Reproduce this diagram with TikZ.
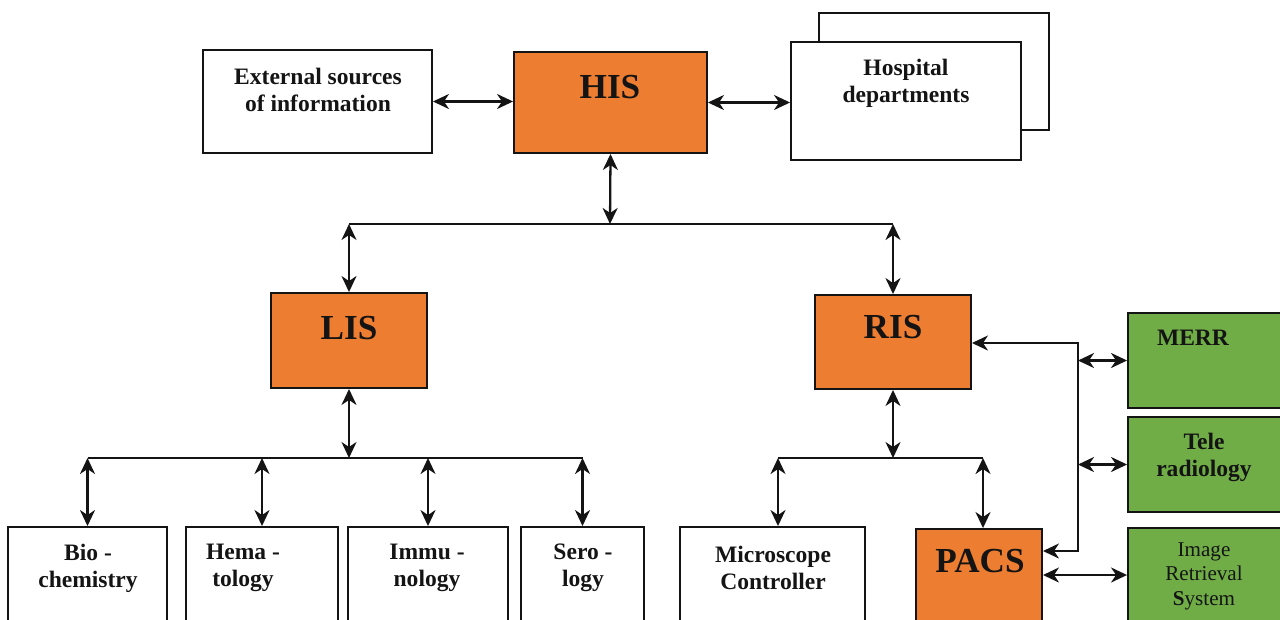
\documentclass[tikz,border=0pt]{standalone}
\usepackage{fontspec}
\setmainfont{Liberation Serif}
\usetikzlibrary{positioning}
\usetikzlibrary{arrows.meta}
\newcommand{\U}{0.02cm}
\newcommand{\BoxLine}{1.1pt}
\newcommand{\ArrowLine}{1.3pt}
\newcommand{\BusLine}{0.7pt}
\definecolor{Black}{RGB}{20, 20, 20}
\definecolor{HisOrange}{RGB}{237, 125, 49}
\definecolor{SubGreen}{RGB}{112, 173, 71}
\newcommand{\LabelFont}{\fontsize{13.4}{15.4}\selectfont\bfseries}
\newcommand{\BigFont}{\fontsize{20}{24}\selectfont\bfseries}
\newcommand{\SmallFont}{\fontsize{12}{14}\selectfont}

\begin{document}
\begin{tikzpicture}[x=\U,y=-\U]
  \tikzstyle{every node}=[font=\LabelFont, align=center, text=Black]
  \tikzstyle{sysbox}=[draw=Black, line width=\BoxLine, inner sep=0pt, fill=white]
  \tikzstyle{dbl}=[line width=\ArrowLine, Black, {Stealth[length=3.2mm,width=3mm,inset=1mm]}-{Stealth[length=3.2mm,width=3mm,inset=1mm]}]
  \tikzstyle{bus}=[line width=\BusLine, Black]
  \clip (0,0) rectangle (1280,619);

  % Top row
  \node[sysbox, minimum width=229*\U, minimum height=103*\U] (ext) at (317.5,101.5) {};
  \node[sysbox, fill=HisOrange, minimum width=193*\U, minimum height=101*\U] (his) at (610.5,102.5) {};
  \node[sysbox, minimum width=230*\U, minimum height=117*\U] (hospback) at (934,71.5) {};
  \node[sysbox, minimum width=230*\U, minimum height=118*\U] (hosp) at (906,101) {};
  \node (exttxt) at (318,90) {External sources\\of information};
  \node[font=\BigFont] (histxt) at (610,87) {HIS};
  \node (hosptxt) at (906,83) {Hospital\\departments};

  % Middle row
  \node[sysbox, fill=HisOrange, minimum width=156*\U, minimum height=95*\U] (lis) at (349,340.5) {};
  \node[sysbox, fill=HisOrange, minimum width=156*\U, minimum height=94*\U] (ris) at (893,342) {};
  \node[font=\BigFont] (listxt) at (349,328) {LIS};
  \node[font=\BigFont] (ristxt) at (893,327) {RIS};

  % Laboratory boxes
  \node[sysbox, minimum width=159*\U, minimum height=123*\U] (bio) at (87.5,588.5) {};
  \node[sysbox, minimum width=152*\U, minimum height=123*\U] (hema) at (262,588.5) {};
  \node[sysbox, minimum width=160*\U, minimum height=123*\U] (immu) at (428,588.5) {};
  \node[sysbox, minimum width=123*\U, minimum height=123*\U] (sero) at (582.5,588.5) {};
  \node (biotxt) at (88,568) {Bio -\\chemistry};
  \node (hematxt) at (243,568) {Hema -\\tology};
  \node (immutxt) at (427,568) {Immu -\\nology};
  \node (serotxt) at (583,568) {Sero -\\logy};

  % Radiology boxes
  \node[sysbox, minimum width=185*\U, minimum height=123*\U] (micro) at (772.5,588.5) {};
  \node[sysbox, fill=HisOrange, minimum width=126*\U, minimum height=121*\U] (pacs) at (979,589.5) {};
  \node (microtxt) at (773,568) {Microscope\\Controller};
  \node[font=\BigFont] (pacstxt) at (980,561) {PACS};

  % Green boxes
  \node[sysbox, fill=SubGreen, minimum width=154*\U, minimum height=95*\U] (merr) at (1205,360.5) {};
  \node[sysbox, fill=SubGreen, minimum width=154*\U, minimum height=95*\U] (tele) at (1205,464.5) {};
  \node[sysbox, fill=SubGreen, minimum width=154*\U, minimum height=122*\U] (irs) at (1205,589) {};
  \node (merrtxt) at (1193,338) {MERR};
  \node (teletxt) at (1204,457) {Tele\\radiology};
  \node[font=\SmallFont] (irstxt) at (1204,576) {Image\\Retrieval\\\textbf{S}ystem};

  % Junctions
  \coordinate (hisbus) at (610,224);
  \coordinate (labbus) at (349,458);
  \coordinate (radbus) at (893,458);
  \coordinate (trunktop) at (1078,343);
  \coordinate (trunkbot) at (1078,551);
  \coordinate (irsline) at (1100,575);

  % HIS links
  \draw[dbl] (ext.east) -- (ext.east -| his.west);
  \draw[dbl] (his.east) -- (his.east -| hosp.west);
  \draw[dbl] (his.south) -- (hisbus);
  \draw[bus] (lis.north |- hisbus) -- (ris.north |- hisbus);
  \draw[dbl] (lis.north |- hisbus) -- (lis.north);
  \draw[dbl] (ris.north |- hisbus) -- (ris.north);

  % LIS links
  \draw[dbl] (lis.south) -- (labbus);
  \draw[bus] (bio.north |- labbus) -- (sero.north |- labbus);
  \foreach \lab in {bio,hema,immu,sero}
    \draw[dbl] (\lab.north |- labbus) -- (\lab.north);

  % RIS links
  \draw[dbl] (ris.south) -- (radbus);
  \draw[bus] ([xshift=5.5*\U]micro.north |- radbus) -- ([xshift=4*\U]pacs.north |- radbus);
  \draw[dbl] ([xshift=5.5*\U]micro.north |- radbus) -- ([xshift=5.5*\U]micro.north);
  \draw[dbl] ([xshift=4*\U]pacs.north |- radbus) -- ([xshift=4*\U]pacs.north);

  % Trunk to green boxes
  \draw[dbl] (trunktop -| ris.east) -- (trunktop) -- (trunkbot) -- (trunkbot -| pacs.east);
  \draw[dbl] (merr.west -| trunktop) -- (merr.west);
  \draw[dbl] (tele.west -| trunktop) -- (tele.west);
  \draw[dbl] (irsline -| pacs.east) -- (irsline -| irs.west);
\end{tikzpicture}
\end{document}
